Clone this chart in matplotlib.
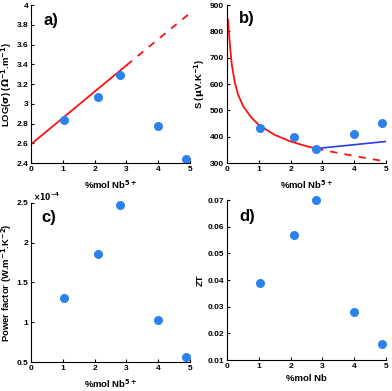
import matplotlib.pyplot as plt

plt.rcParams['font.family'] = ['Liberation Sans', 'DejaVu Sans']
plt.rcParams['font.weight'] = 'bold'
plt.rcParams['mathtext.default'] = 'bf'

# data
nb = [1.05, 2.1, 2.8, 4.0, 4.88]
log_sigma = [2.84, 3.07, 3.29, 2.78, 2.44]
seebeck = [432, 399, 355, 411, 452]
power_factor = [1.30e-4, 1.86e-4, 2.47e-4, 1.03e-4, 0.56e-4]
zt = [0.039, 0.057, 0.070, 0.028, 0.016]

# fit lines (a)
fit_a_x = [0, 3.0]
fit_a_y = [2.59, 3.39]
fit_a_dash_x = [3.0, 5.0]
fit_a_dash_y = [3.39, 3.92]

# fit curve (b)
fit_b_x = [0.03, 0.05, 0.1, 0.15, 0.25, 0.35, 0.5, 0.75, 1.0, 1.5, 2.0, 2.5, 2.8]
fit_b_y = [845, 815, 739, 675, 604, 560, 518, 475, 445, 407, 382, 364, 355]
fit_b_dash_x = [2.8, 3.5, 4.0, 4.5, 5.0]
fit_b_dash_y = [355, 338, 327, 316, 306]
lin_b_x = [2.8, 5.0]
lin_b_y = [355, 382]

blue_pt = '#2b82ee'
red = '#ff1010'
blue_ln = '#2a3ee0'

fig = plt.figure(figsize=(3.92, 3.91), dpi=100)
ax_a = fig.add_axes([0.079, 0.583, 0.406, 0.404])
ax_b = fig.add_axes([0.579, 0.583, 0.406, 0.404])
ax_c = fig.add_axes([0.079, 0.074, 0.406, 0.407])
ax_d = fig.add_axes([0.579, 0.079, 0.406, 0.409])

for ax in (ax_a, ax_b, ax_c, ax_d):
    ax.spines['top'].set_visible(False)
    ax.spines['right'].set_visible(False)
    ax.tick_params(direction='in', length=2, labelsize=6, pad=2)
    ax.set_xlim(0, 5)
    ax.set_xticks([0, 1, 2, 3, 4, 5])

lab = dict(fontsize=6.8, fontweight='bold')
let = dict(fontsize=12, fontweight='bold', va='center', ha='left')

# a)
ax_a.plot(fit_a_x, fit_a_y, color=red, lw=1.3)
ax_a.plot(fit_a_dash_x, fit_a_dash_y, color=red, lw=1.3, ls=(0, (4, 4)))
ax_a.plot(nb, log_sigma, 'o', color=blue_pt, ms=6.5, mec='none', clip_on=False)
ax_a.set_ylim(2.4, 4)
ax_a.set_yticks([2.4, 2.6, 2.8, 3, 3.2, 3.4, 3.6, 3.8, 4])
ax_a.set_yticklabels(['2.4', '2.6', '2.8', '3', '3.2', '3.4', '3.6', '3.8', '4'])
ax_a.set_ylabel(r'LOG($\sigma$) ($\Omega^{-1}$.m$^{-1}$)', labelpad=2, **lab)
ax_a.set_xlabel('%mol Nb$^{5+}$', labelpad=4, **lab)
ax_a.text(0.08, 0.905, 'a)', transform=ax_a.transAxes, **let)

# b)
ax_b.plot(fit_b_x, fit_b_y, color=red, lw=1.3)
ax_b.plot(fit_b_dash_x, fit_b_dash_y, color=red, lw=1.3, ls=(0, (4, 4)))
ax_b.plot(lin_b_x, lin_b_y, color=blue_ln, lw=1.2)
ax_b.plot(nb, seebeck, 'o', color=blue_pt, ms=6.5, mec='none', clip_on=False)
ax_b.set_ylim(300, 900)
ax_b.set_yticks([300, 400, 500, 600, 700, 800, 900])
ax_b.set_ylabel(r'S ($\mu$V.K$^{-1}$)', labelpad=2, **lab)
ax_b.set_xlabel('%mol Nb$^{5+}$', labelpad=4, **lab)
ax_b.text(0.075, 0.915, 'b)', transform=ax_b.transAxes, **let)

# c)
ax_c.plot(nb, power_factor, 'o', color=blue_pt, ms=6.5, mec='none', clip_on=False)
ax_c.set_ylim(0.5e-4, 2.5e-4)
ax_c.set_yticks([0.5e-4, 1e-4, 1.5e-4, 2e-4, 2.5e-4])
ax_c.set_yticklabels(['0.5', '1', '1.5', '2', '2.5'])
ax_c.text(0.01, 1.0, r'$\times10^{-4}$', transform=ax_c.transAxes, fontsize=5.5,
          ha='left', va='bottom')
ax_c.set_ylabel(r'Power factor (W.m$^{-1}$.K$^{-2}$)', labelpad=2, **lab)
ax_c.set_xlabel('%mol Nb$^{5+}$', labelpad=4, **lab)
ax_c.text(0.063, 0.906, 'c)', transform=ax_c.transAxes, **let)

# d)
ax_d.plot(nb, zt, 'o', color=blue_pt, ms=6.5, mec='none', clip_on=False)
ax_d.set_ylim(0.01, 0.07)
ax_d.set_yticks([0.01, 0.02, 0.03, 0.04, 0.05, 0.06, 0.07])
ax_d.set_ylabel('ZT', labelpad=2, **lab)
ax_d.set_xlabel('%mol Nb', labelpad=3, **lab)
ax_d.text(0.08, 0.9, 'd)', transform=ax_d.transAxes, **let)

fig.savefig('out.png', dpi=100)
